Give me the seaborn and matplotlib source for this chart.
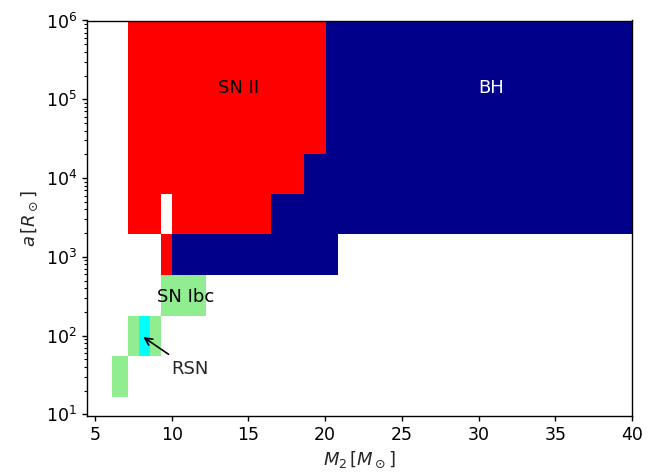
import numpy as np
import matplotlib
matplotlib.use("Agg")
import matplotlib.pyplot as plt
from matplotlib.colors import ListedColormap, BoundaryNorm
import seaborn as sns

# --- data -------------------------------------------------------------
# cell edges of the outcome grid
mass_edges = [6.11, 7.18, 7.90, 8.59, 9.33, 10.02, 12.23, 16.47, 18.62, 20.06, 20.84, 40.0]
sep_edges = [16.8, 54.5, 178, 589, 1923, 6280, 20230, 1e6]

# outcome codes: 0 = none, 1 = SN Ibc, 2 = RSN, 3 = SN II, 4 = BH
outcome_labels = ["none", "SN Ibc", "RSN", "SN II", "BH"]
outcome_colors = ["white", "lightgreen", "cyan", "red", "darkblue"]
# rows: separation bins bottom -> top; columns: mass bins left -> right
outcome = [
    [1, 0, 0, 0, 0, 0, 0, 0, 0, 0, 0],
    [0, 1, 2, 1, 0, 0, 0, 0, 0, 0, 0],
    [0, 0, 0, 0, 1, 1, 0, 0, 0, 0, 0],
    [0, 0, 0, 0, 3, 4, 4, 4, 4, 4, 0],
    [0, 3, 3, 3, 0, 3, 3, 4, 4, 4, 4],
    [0, 3, 3, 3, 3, 3, 3, 3, 4, 4, 4],
    [0, 3, 3, 3, 3, 3, 3, 3, 3, 4, 4],
]

region_labels = ["SN II", "BH", "SN Ibc"]
region_x = [14.39, 30.81, 10.93]
region_y = [1.39e5, 1.39e5, 310]
region_colors = ["black", "white", "black"]

rsn_text_xy = (11.19, 37.8)
rsn_arrow_xy = (8.15, 96.0)

# --- plot -------------------------------------------------------------
sns.set_theme(style="ticks")
plt.rcParams["font.family"] = ["DejaVu Sans"]
plt.rcParams["axes.edgecolor"] = "black"
plt.rcParams["xtick.color"] = "black"
plt.rcParams["ytick.color"] = "black"
plt.rcParams["axes.linewidth"] = 1.0

fig = plt.figure(figsize=(6.67, 4.76), dpi=100)
ax = fig.add_axes([86.7 / 667, 1 - 416 / 476, (632 - 86.7) / 667, (416 - 20.5) / 476])

Z = np.ma.masked_equal(np.array(outcome), 0)
cmap = ListedColormap(outcome_colors)
norm = BoundaryNorm(np.arange(-0.5, len(outcome_colors) + 0.5, 1), cmap.N)
ax.pcolormesh(mass_edges, sep_edges, Z, cmap=cmap, norm=norm, shading="flat")

ax.set_yscale("log")
ax.set_xlim(4.46, 40)
ax.set_ylim(10 ** 0.98, 1e6)
ax.set_xticks([5, 10, 15, 20, 25, 30, 35, 40])

for lab, xx, yy, cc in zip(region_labels, region_x, region_y, region_colors):
    ax.text(xx, yy, lab, color=cc, fontsize=13, ha="center", va="center")

ax.annotate("RSN", xy=rsn_arrow_xy, xytext=rsn_text_xy, fontsize=13,
            ha="center", va="center",
            arrowprops=dict(arrowstyle="->", color="black", lw=1.2,
                            shrinkA=3, shrinkB=0))

ax.set_xlabel(r"$M_2\,[M_\odot]$", fontsize=13)
ax.set_ylabel(r"$a\,[R_\odot]$", fontsize=13)
ax.tick_params(axis="both", which="major", labelsize=12.5, length=3.5, width=1, direction="out")
ax.tick_params(axis="y", which="minor", length=2, width=0.8, direction="out")
ax.tick_params(axis="x", which="minor", bottom=False)

fig.savefig("out.png", dpi=100)
